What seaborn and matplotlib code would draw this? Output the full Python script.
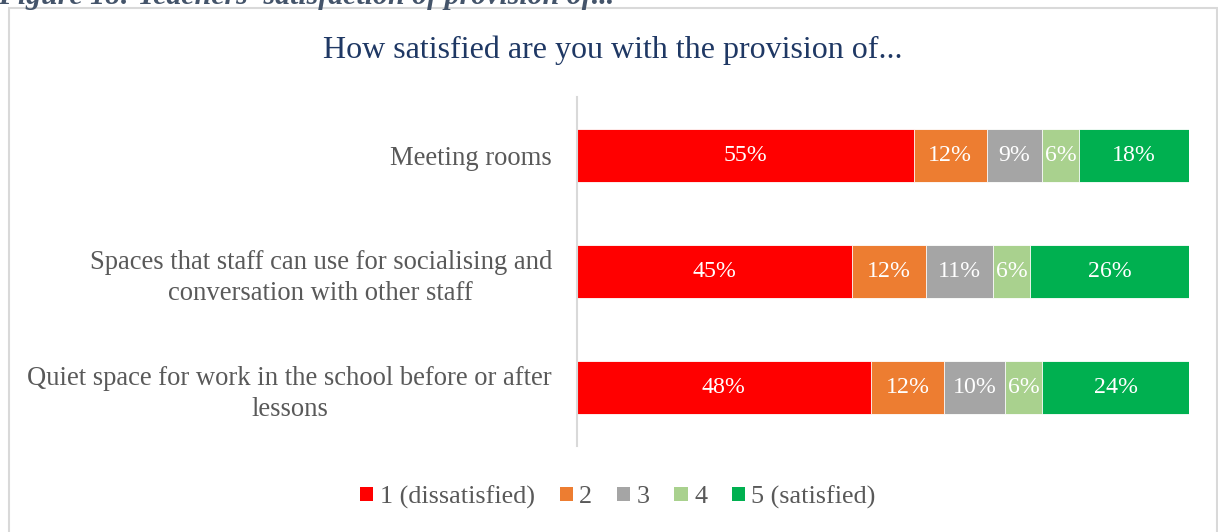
import matplotlib
matplotlib.use("Agg")
import matplotlib.pyplot as plt
from matplotlib.patches import Rectangle, Patch
import numpy as np
import pandas as pd
import seaborn as sns

# Survey items (top to bottom) and response shares in percent
items = [
    "Meeting rooms",
    "Spaces that staff can use for socialising and\nconversation with other staff",
    "Quiet space for work in the school before or after\nlessons",
]
levels = ["1 (dissatisfied)", "2", "3", "4", "5 (satisfied)"]
score_1 = [55, 45, 48]
score_2 = [12, 12, 12]
score_3 = [9, 11, 10]
score_4 = [6, 6, 6]
score_5 = [18, 26, 24]

colors = ["#FF0000", "#ED7D31", "#A5A5A5", "#A9D18E", "#00B050"]

sns.set_theme(style="white")
plt.rcParams["font.family"] = ["Liberation Serif", "DejaVu Serif"]

series = [score_1, score_2, score_3, score_4, score_5]
shares = np.array(series, dtype=float)
cum = np.cumsum(shares, axis=0)

fig = plt.figure(figsize=(12.18, 5.32), dpi=100)
ax = fig.add_axes([577 / 1218, 1 - 446 / 532, 612 / 1218, 349 / 532])

# Outer chart frame
fig.patches.append(Rectangle((8.5 / 1218, -0.05), (1217 - 8.5) / 1218, 1 - 7.5 / 532 + 0.05,
                             transform=fig.transFigure, fill=False,
                             edgecolor="#D9D9D9", linewidth=1.5))

# Stacked bars: draw cumulative totals from the largest down so each segment shows
for k in range(len(levels) - 1, -1, -1):
    df = pd.DataFrame({"item": items, "value": cum[k]})
    sns.barplot(data=df, x="value", y="item", orient="h", color=colors[k],
                width=0.455, edgecolor="white", linewidth=0.6,
                saturation=1, ax=ax)

# Value labels centred in each segment
for k in range(len(levels)):
    for i in range(len(items)):
        v = shares[k, i]
        center = cum[k, i] - v / 2
        ax.text(center, i, f"{v:.0f}%", ha="center", va="center",
                color="white", fontsize=17.2)

ax.set_xlim(0, 100)
ax.set_ylim(2.5, -0.5)
ax.set_xlabel("")
ax.set_ylabel("")
ax.set_xticks([])
ax.tick_params(axis="y", length=0, pad=18, labelsize=19.2, labelcolor="#595959")
for lab in ax.get_yticklabels():
    lab.set_multialignment("center")
    lab.set_linespacing(1.32)
for side in ["top", "right", "bottom"]:
    ax.spines[side].set_visible(False)
ax.spines["left"].set_color("#D9D9D9")
ax.spines["left"].set_linewidth(1.5)

# Chart title
fig.text(613 / 1218, 1 - 50 / 532, "How satisfied are you with the provision of...",
         ha="center", va="center", fontsize=23, color="#1F3864")

# Figure caption running off the top edge
fig.text(-2 / 1218, 1 - 4.5 / 532, "Figure 18: Teachers' satisfaction of provision of...",
         ha="left", va="baseline", fontsize=21.5, fontstyle="italic", fontweight="bold",
         color="#44546A")

# Legend
handles = [Patch(facecolor=c, edgecolor="none") for c in colors]
fig.legend(handles, levels, loc="center", bbox_to_anchor=(618 / 1218, 1 - 497 / 532),
           ncol=5, frameon=False, fontsize=18.8, labelcolor="#595959",
           handlelength=0.5, handleheight=0.5, handletextpad=0.25, columnspacing=0.95)

fig.savefig("out.png", dpi=100)
